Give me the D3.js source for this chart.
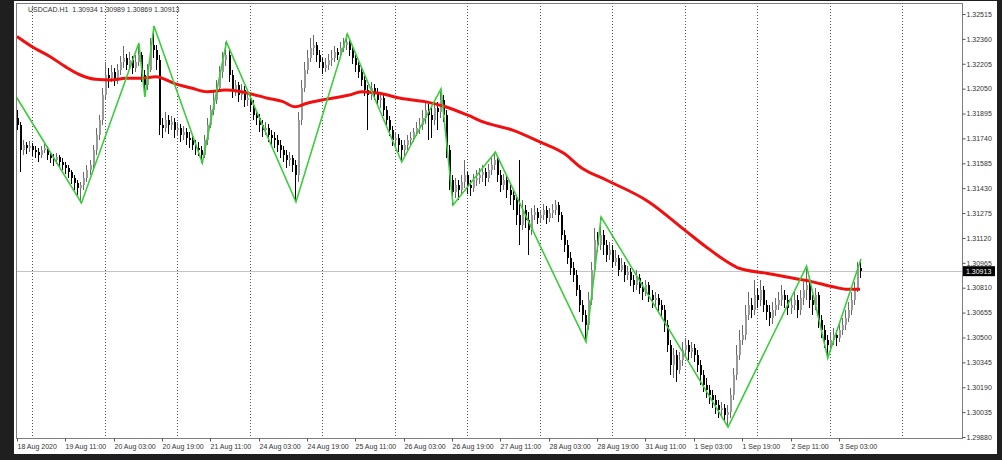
<!DOCTYPE html>
<html><head><meta charset="utf-8">
<script src="https://cdn.jsdelivr.net/npm/d3@7/dist/d3.min.js"></script>
<style>html,body{margin:0;padding:0;background:#1f1f1f;overflow:hidden}svg{display:block}</style>
</head><body>
<svg id="c" width="1002" height="460"></svg>
<script>
const symbolName = "USDCAD.H1";
const lastOHLC = [1.30934, 1.30989, 1.30869, 1.30913];
const firstOpen = 1.31867;
const closes = [1.31823,1.31668,1.31699,1.31680,1.31693,1.31668,1.31655,1.31637,1.31668,1.31680,1.31637,1.31618,1.31605,1.31624,1.31593,1.31574,1.31556,1.31531,1.31493,1.31462,1.31431,1.31450,1.31493,1.31543,1.31574,1.31668,1.31761,1.31855,1.32010,1.32135,1.32116,1.32154,1.32104,1.32166,1.32216,1.32241,1.32197,1.32228,1.32178,1.32216,1.32259,1.32135,1.32073,1.32166,1.32322,1.32291,1.32228,1.31823,1.31805,1.31855,1.31823,1.31842,1.31792,1.31805,1.31761,1.31780,1.31742,1.31730,1.31699,1.31680,1.31668,1.31637,1.31730,1.31823,1.31917,1.31979,1.32054,1.32154,1.32228,1.32259,1.32135,1.32029,1.32073,1.32010,1.32041,1.31979,1.31992,1.31948,1.31886,1.31867,1.31823,1.31792,1.31805,1.31761,1.31742,1.31730,1.31699,1.31668,1.31637,1.31605,1.31618,1.31574,1.31512,1.31855,1.32054,1.32166,1.32241,1.32303,1.32322,1.32259,1.32216,1.32178,1.32197,1.32228,1.32241,1.32278,1.32259,1.32303,1.32322,1.32340,1.32291,1.32241,1.32197,1.32154,1.32104,1.32041,1.32010,1.32054,1.32029,1.31979,1.31992,1.31917,1.31855,1.31792,1.31730,1.31742,1.31699,1.31668,1.31699,1.31730,1.31742,1.31780,1.31805,1.31823,1.31867,1.31917,1.31886,1.31855,1.31929,1.31904,1.31979,1.31886,1.31668,1.31481,1.31406,1.31450,1.31418,1.31468,1.31512,1.31450,1.31431,1.31481,1.31493,1.31512,1.31531,1.31493,1.31543,1.31574,1.31605,1.31512,1.31450,1.31481,1.31418,1.31387,1.31356,1.31263,1.31200,1.31294,1.31232,1.31169,1.31263,1.31281,1.31244,1.31263,1.31294,1.31244,1.31275,1.31294,1.31325,1.31263,1.31138,1.31076,1.30995,1.30933,1.30889,1.30796,1.30702,1.30640,1.30578,1.30733,1.30920,1.31107,1.31076,1.31138,1.31076,1.31014,1.31045,1.30970,1.30995,1.30920,1.30951,1.30889,1.30908,1.30858,1.30827,1.30870,1.30808,1.30783,1.30827,1.30764,1.30733,1.30746,1.30702,1.30671,1.30578,1.30453,1.30328,1.30391,1.30297,1.30360,1.30422,1.30453,1.30409,1.30434,1.30391,1.30328,1.30266,1.30204,1.30173,1.30141,1.30110,1.30079,1.30048,1.30061,1.30017,1.30036,1.30141,1.30266,1.30391,1.30484,1.30515,1.30640,1.30702,1.30671,1.30764,1.30733,1.30796,1.30702,1.30659,1.30621,1.30671,1.30702,1.30733,1.30764,1.30733,1.30683,1.30702,1.30733,1.30671,1.30746,1.30796,1.30827,1.30733,1.30702,1.30764,1.30609,1.30546,1.30484,1.30453,1.30484,1.30515,1.30497,1.30546,1.30578,1.30621,1.30671,1.30733,1.30796,1.30934,1.30913];
const highs = [1.31917,1.31842,1.31730,1.31717,1.31724,1.31711,1.31693,1.31680,1.31693,1.31705,1.31693,1.31655,1.31643,1.31649,1.31637,1.31618,1.31593,1.31574,1.31543,1.31512,1.31481,1.31468,1.31531,1.31574,1.31605,1.31699,1.31805,1.31886,1.32054,1.32216,1.32178,1.32197,1.32178,1.32203,1.32253,1.32315,1.32266,1.32278,1.32253,1.32259,1.32334,1.32278,1.32166,1.32203,1.32365,1.32440,1.32322,1.32259,1.31867,1.31904,1.31886,1.31879,1.31867,1.31842,1.31830,1.31817,1.31805,1.31780,1.31755,1.31730,1.31717,1.31693,1.31761,1.31867,1.31948,1.32029,1.32104,1.32191,1.32278,1.32340,1.32291,1.32166,1.32104,1.32091,1.32079,1.32066,1.32029,1.32016,1.31979,1.31917,1.31892,1.31855,1.31842,1.31830,1.31792,1.31780,1.31761,1.31730,1.31693,1.31668,1.31655,1.31637,1.31605,1.31904,1.32104,1.32216,1.32291,1.32365,1.32384,1.32340,1.32291,1.32241,1.32241,1.32266,1.32291,1.32315,1.32303,1.32340,1.32365,1.32390,1.32365,1.32315,1.32259,1.32216,1.32178,1.32129,1.32073,1.32091,1.32079,1.32054,1.32029,1.32010,1.31942,1.31879,1.31817,1.31780,1.31767,1.31730,1.31730,1.31761,1.31780,1.31805,1.31842,1.31867,1.31917,1.31967,1.31954,1.31929,1.31979,1.31967,1.32048,1.32010,1.31917,1.31699,1.31512,1.31493,1.31481,1.31512,1.31605,1.31531,1.31481,1.31518,1.31543,1.31556,1.31574,1.31556,1.31580,1.31618,1.31655,1.31618,1.31543,1.31518,1.31506,1.31450,1.31418,1.31387,1.31605,1.31356,1.31325,1.31281,1.31306,1.31325,1.31306,1.31294,1.31331,1.31319,1.31306,1.31331,1.31356,1.31344,1.31281,1.31169,1.31107,1.31032,1.30970,1.30920,1.30827,1.30733,1.30671,1.30783,1.30970,1.31182,1.31157,1.31250,1.31169,1.31107,1.31095,1.31076,1.31045,1.31014,1.30995,1.30970,1.30945,1.30933,1.30889,1.30920,1.30895,1.30845,1.30858,1.30845,1.30796,1.30783,1.30771,1.30733,1.30702,1.30609,1.30484,1.30434,1.30422,1.30409,1.30472,1.30497,1.30484,1.30472,1.30459,1.30422,1.30360,1.30297,1.30247,1.30204,1.30173,1.30141,1.30110,1.30098,1.30085,1.30079,1.30185,1.30310,1.30453,1.30546,1.30578,1.30702,1.30783,1.30746,1.30858,1.30808,1.30858,1.30820,1.30733,1.30702,1.30721,1.30746,1.30783,1.30827,1.30796,1.30764,1.30746,1.30783,1.30764,1.30796,1.30845,1.30945,1.30870,1.30764,1.30808,1.30783,1.30640,1.30578,1.30515,1.30534,1.30559,1.30546,1.30596,1.30621,1.30671,1.30721,1.30783,1.30845,1.30970,1.30989];
const lows = [1.31792,1.31531,1.31637,1.31643,1.31655,1.31630,1.31618,1.31593,1.31618,1.31649,1.31605,1.31587,1.31568,1.31580,1.31556,1.31543,1.31518,1.31493,1.31456,1.31418,1.31387,1.31338,1.31418,1.31468,1.31512,1.31556,1.31637,1.31730,1.31823,1.31979,1.32054,1.32091,1.32066,1.32079,1.32135,1.32178,1.32166,1.32166,1.32141,1.32154,1.32191,1.32091,1.31998,1.32041,1.32154,1.32241,1.32166,1.31761,1.31742,1.31780,1.31767,1.31792,1.31742,1.31755,1.31717,1.31730,1.31699,1.31680,1.31668,1.31637,1.31630,1.31587,1.31618,1.31699,1.31805,1.31886,1.31954,1.32029,1.32116,1.32191,1.32091,1.31992,1.32004,1.31967,1.31979,1.31935,1.31942,1.31904,1.31855,1.31823,1.31780,1.31749,1.31761,1.31717,1.31699,1.31680,1.31655,1.31618,1.31593,1.31556,1.31568,1.31531,1.31344,1.31468,1.31823,1.32029,1.32141,1.32216,1.32259,1.32216,1.32178,1.32141,1.32154,1.32166,1.32191,1.32216,1.32228,1.32241,1.32278,1.32291,1.32253,1.32203,1.32154,1.32116,1.32066,1.32004,1.31792,1.31979,1.31979,1.31942,1.31929,1.31879,1.31817,1.31755,1.31693,1.31680,1.31655,1.31593,1.31630,1.31668,1.31693,1.31717,1.31755,1.31767,1.31792,1.31830,1.31730,1.31742,1.31823,1.31792,1.31867,1.31842,1.31618,1.31418,1.31325,1.31369,1.31356,1.31387,1.31431,1.31394,1.31381,1.31406,1.31443,1.31456,1.31468,1.31443,1.31468,1.31512,1.31543,1.31468,1.31406,1.31418,1.31369,1.31325,1.31294,1.31200,1.31076,1.31169,1.31182,1.31014,1.31138,1.31232,1.31207,1.31219,1.31232,1.31207,1.31219,1.31244,1.31263,1.31219,1.31107,1.31032,1.30958,1.30889,1.30845,1.30758,1.30659,1.30596,1.30472,1.30546,1.30702,1.30889,1.31032,1.31045,1.31014,1.30970,1.30982,1.30933,1.30945,1.30883,1.30908,1.30845,1.30858,1.30820,1.30783,1.30796,1.30771,1.30733,1.30758,1.30721,1.30683,1.30696,1.30659,1.30621,1.30534,1.30409,1.30266,1.30247,1.30223,1.30272,1.30322,1.30384,1.30360,1.30372,1.30347,1.30285,1.30204,1.30160,1.30123,1.30085,1.30061,1.30023,1.29998,1.30011,1.29973,1.29942,1.29998,1.30110,1.30235,1.30360,1.30453,1.30484,1.30609,1.30621,1.30640,1.30683,1.30696,1.30659,1.30609,1.30571,1.30584,1.30634,1.30671,1.30696,1.30683,1.30640,1.30646,1.30671,1.30621,1.30640,1.30702,1.30733,1.30683,1.30640,1.30671,1.30559,1.30497,1.30434,1.30372,1.30409,1.30453,1.30447,1.30472,1.30515,1.30546,1.30596,1.30640,1.30702,1.30783,1.30869];
const zigzagBars = [-4,21,40,42,45,61,69,92,109,127,140,144,158,188,193,235,261,268,279];
const zigzagPrices = [1.32104,1.31338,1.32334,1.31998,1.32440,1.31587,1.32340,1.31344,1.32390,1.31593,1.32048,1.31325,1.31655,1.30472,1.31250,1.29942,1.30945,1.30372,1.30989];
const maBars = [0,5,11,16,21,26,31,36,41,46,52,58,63,69,74,83,88,92,96,102,110,114,120,127,135,141,149,155,164,173,181,187,195,209,221,228,235,239,248,257,263,270,275,279];
const maValues = [1.32375,1.32311,1.32249,1.32187,1.32135,1.32108,1.32104,1.32114,1.32114,1.32124,1.32083,1.32052,1.32031,1.32041,1.32031,1.31990,1.31969,1.31937,1.31959,1.31983,1.32010,1.32031,1.32021,1.31990,1.31969,1.31942,1.31886,1.31838,1.31792,1.31719,1.31647,1.31554,1.31481,1.31346,1.31169,1.31065,1.30972,1.30931,1.30900,1.30869,1.30848,1.30816,1.30800,1.30800];
const yTickLabels = ["1.32515","1.32360","1.32205","1.32050","1.31895","1.31740","1.31585","1.31430","1.31275","1.31120","1.30965","1.30810","1.30655","1.30500","1.30345","1.30190","1.30035","1.29880"];
const xTickLabels = ["18 Aug 2020","19 Aug 11:00","20 Aug 03:00","20 Aug 19:00","21 Aug 11:00","24 Aug 03:00","24 Aug 19:00","25 Aug 11:00","26 Aug 03:00","26 Aug 19:00","27 Aug 11:00","28 Aug 03:00","28 Aug 19:00","31 Aug 11:00","1 Sep 03:00","1 Sep 19:00","2 Sep 11:00","3 Sep 03:00"];
const xTickBars = [0,16,32,48,64,80,96,112,128,144,160,176,192,208,224,240,256,272];
const dayStartBars = [5,29,53,77,101,125,149,173,197,221,245,269,293];

const FONT = "'Liberation Sans', Arial, sans-serif";
const L = 16, T = 3, R = 962, B = 438;
const svg = d3.select("#c");
svg.append("rect").attr("x",0).attr("y",0).attr("width",1002).attr("height",460).attr("fill","#1f1f1f");
svg.append("rect").attr("x",14).attr("y",1).attr("width",983).attr("height",453).attr("fill","#ffffff");

const x = d3.scaleLinear().domain([0, 279]).range([17, 860]);
const yTickValues = yTickLabels.map(Number);
const y = d3.scaleLinear().domain([d3.min(yTickValues), d3.max(yTickValues)]).range([437, 14]);

svg.append("clipPath").attr("id","clip").append("rect").attr("x",L).attr("y",T).attr("width",R-L).attr("height",B-T);
const plot = svg.append("g").attr("clip-path","url(#clip)");

// day separators
plot.selectAll("line.grid").data(dayStartBars).join("line")
  .attr("x1", d => Math.round(x(d)) + 0.5).attr("x2", d => Math.round(x(d)) + 0.5)
  .attr("y1", T).attr("y2", B)
  .attr("stroke", "#555").attr("stroke-width", 1).attr("stroke-dasharray", "1,2");

// current price line
const lastClose = lastOHLC[3];
plot.append("line").attr("x1",L).attr("x2",R)
  .attr("y1", Math.round(y(lastClose))+0.5).attr("y2", Math.round(y(lastClose))+0.5)
  .attr("stroke","#c4c4c4").attr("stroke-width",1);

// candles
const bars = closes.map((c, i) => ({
  i, o: i === 0 ? firstOpen : closes[i-1], h: highs[i], l: lows[i], c
}));
const cg = plot.append("g").attr("shape-rendering","crispEdges");
cg.selectAll("line.wick").data(bars).join("line")
  .attr("x1", d => Math.round(x(d.i)) + 0.5).attr("x2", d => Math.round(x(d.i)) + 0.5)
  .attr("y1", d => y(d.h)).attr("y2", d => y(d.l))
  .attr("stroke", d => d.c >= d.o ? "#6a6a6a" : "#000").attr("stroke-width", 1);
cg.selectAll("rect.body").data(bars).join("rect")
  .attr("x", d => Math.round(x(d.i)))
  .attr("width", 2)
  .attr("y", d => y(Math.max(d.o, d.c)))
  .attr("height", d => Math.max(1, Math.abs(y(d.o) - y(d.c))))
  .attr("fill", d => d.c >= d.o ? "#9a9a9a" : "#000");

// moving average
plot.append("path")
  .datum(maBars.map((b, k) => [b, maValues[k]]))
  .attr("fill","none").attr("stroke","#f01010").attr("stroke-width",3)
  .attr("stroke-linejoin","round")
  .attr("d", d3.line().x(d => x(d[0])).y(d => y(d[1])).curve(d3.curveMonotoneX));

// zigzag
plot.append("path")
  .datum(zigzagBars.map((b, k) => [b, zigzagPrices[k]]))
  .attr("fill","none").attr("stroke","#3ccc3c").attr("stroke-width",1.6)
  .attr("d", d3.line().x(d => x(d[0]) + 1).y(d => y(d[1])));

// frame
svg.append("rect").attr("x",L+0.5).attr("y",T+0.5).attr("width",R-L).attr("height",B-T)
  .attr("fill","none").attr("stroke","#7d7d7d").attr("stroke-width",1);

// y axis
const yAxis = d3.axisRight(y).tickValues(yTickValues).tickFormat((d, k) => yTickLabels[k]).tickSize(3).tickPadding(1);
const yg = svg.append("g").attr("transform", `translate(${R+0.5},0)`).call(yAxis);
yg.select(".domain").remove();
yg.selectAll("line").attr("stroke","#555");
yg.selectAll("text").attr("font-family", FONT).attr("font-size", 7).attr("fill","#333");

// x axis
const xAxis = d3.axisBottom(x).tickValues(xTickBars).tickFormat((d, k) => xTickLabels[k]).tickSize(3).tickPadding(1);
const xg = svg.append("g").attr("transform", `translate(0,${B+0.5})`).call(xAxis);
xg.select(".domain").remove();
xg.selectAll(".tick").attr("transform", d => `translate(${Math.round(x(d))+0.5},0)`);
xg.selectAll("line").attr("stroke","#555");
xg.selectAll("text").attr("font-family", FONT).attr("font-size", 7).attr("fill","#333")
  .attr("text-anchor","start").attr("x", 0).attr("dy", "0.9em");

// current price tag
const py = y(lastClose);
svg.append("rect").attr("x", R+1).attr("y", py - 5).attr("width", 32).attr("height", 10).attr("fill", "#000");
svg.append("text").attr("x", R+4).attr("y", py + 2.5)
  .attr("font-family", FONT).attr("font-size", 7).attr("fill", "#fff").text(d3.format(".5f")(lastClose));

// title
svg.append("text").attr("x", 28).attr("y", 12).attr("font-family", FONT).attr("font-size", 7)
  .attr("fill", "#333").style("white-space","pre")
  .text(symbolName + "  " + lastOHLC.map(d3.format(".5f")).join(" "));
</script>
</body></html>
